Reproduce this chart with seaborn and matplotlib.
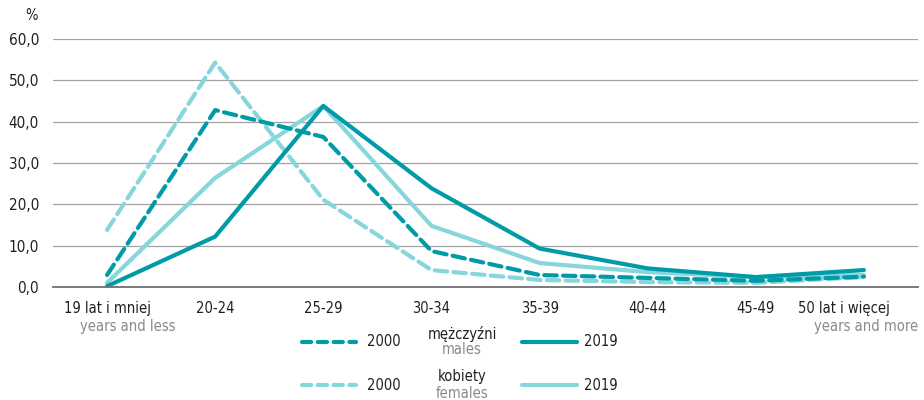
import pandas as pd
import matplotlib.pyplot as plt
import seaborn as sns
from matplotlib.lines import Line2D
from matplotlib.transforms import ScaledTranslation

# age groups
age_pl = ['19 lat i mniej', '20-24', '25-29', '30-34', '35-39', '40-44', '45-49', '50 lat i więcej']
# share of each age group, %
males_2000 = [2.9, 42.8, 36.3, 8.7, 2.9, 2.2, 1.5, 2.5]
males_2019 = [0.2, 12.2, 43.8, 23.9, 9.3, 4.5, 2.4, 4.1]
females_2000 = [13.8, 54.3, 21.1, 4.1, 1.7, 1.2, 1.0, 2.4]
females_2019 = [1.0, 26.4, 43.8, 14.8, 5.8, 3.6, 2.4, 2.9]

DARK = '#009ba6'
LIGHT = '#86d6db'
TXT = '#231f20'
GREY = '#8a8a8a'
FS = 10.5

sns.set_style('white')
plt.rcParams['font.family'] = ['DejaVu Sans']
plt.rcParams['font.stretch'] = 'condensed'

frames = []
for name, vals in [('m2000', males_2000), ('m2019', males_2019),
                   ('f2000', females_2000), ('f2019', females_2019)]:
    frames.append(pd.DataFrame({'age': age_pl, 'value': vals, 'series': name}))
data = pd.concat(frames, ignore_index=True)

W, H = 924, 400
fig = plt.figure(figsize=(W / 100, H / 100), dpi=100)
ax = fig.add_axes([53 / W, 1 - 287 / H, 865 / W, 248 / H])

styles = {'m2000': (DARK, (3, 1.5)), 'm2019': (DARK, None),
          'f2000': (LIGHT, (3, 1.5)), 'f2019': (LIGHT, None)}
for name in ['f2000', 'f2019', 'm2000', 'm2019']:
    col, dash = styles[name]
    sub = data[data.series == name]
    sns.lineplot(data=sub, x='age', y='value', ax=ax, color=col, lw=3,
                 sort=False, legend=False)
    line = ax.lines[-1]
    if dash:
        line.set_dashes(dash)
    line.set_solid_capstyle('round')
    line.set_dash_capstyle('round')

ax.set_xlim(-0.5, len(age_pl) - 0.5)
ax.set_ylim(0, 60)
ax.set_xlabel('')
ax.set_ylabel('')

ax.set_yticks(range(0, 61, 10))
ax.set_yticklabels([f'{v},0' for v in range(0, 61, 10)], fontsize=11, color=TXT)
ax.tick_params(axis='y', length=0, pad=10)
for v in range(10, 61, 10):
    ax.axhline(v, color='#a3a3a3', lw=0.9, zorder=0)

ax.set_xticks(range(len(age_pl)))
ax.set_xticklabels(age_pl, fontsize=FS, color=TXT)
ax.set_xticks([i - 0.5 for i in range(len(age_pl) + 1)], minor=True)
ax.tick_params(axis='x', which='major', length=0, pad=10)
ax.tick_params(axis='x', which='minor', length=5, width=1, color='#707070', direction='out')
last = ax.get_xticklabels()[-1]
last.set_horizontalalignment('right')
last.set_transform(last.get_transform() + ScaledTranslation(0.26, 0, fig.dpi_scale_trans))

for s in ['left', 'right', 'top']:
    ax.spines[s].set_visible(False)
ax.spines['bottom'].set_color('#707070')
ax.spines['bottom'].set_linewidth(1.3)

def fx(px):
    return px / W

def fy(py):
    return 1 - py / H

fig.text(fx(32), fy(15), '%', fontsize=FS, color=TXT, ha='center', va='center')
fig.text(fx(80), fy(327), 'years and less', fontsize=FS, color=GREY, ha='left', va='center')
fig.text(fx(918), fy(327), 'years and more', fontsize=FS, color=GREY, ha='right', va='center')

# legend
for py, col, top, bottom in [(342, DARK, 'mężczyźni', 'males'), (385, LIGHT, 'kobiety', 'females')]:
    fig.add_artist(Line2D([fx(302), fx(356)], [fy(py), fy(py)], color=col, lw=3,
                          dashes=(2.2, 1.6), dash_capstyle='round'))
    fig.text(fx(367), fy(py), '2000', fontsize=FS, color=TXT, va='center')
    fig.add_artist(Line2D([fx(522), fx(577)], [fy(py), fy(py)], color=col, lw=3,
                          solid_capstyle='round'))
    fig.text(fx(584), fy(py), '2019', fontsize=FS, color=TXT, va='center')
    fig.text(fx(462), fy(py - 8), top, fontsize=FS, color=TXT, ha='center', va='center')
    fig.text(fx(462), fy(py + 8), bottom, fontsize=FS, color=GREY, ha='center', va='center')

fig.savefig('out.png', dpi=100)
